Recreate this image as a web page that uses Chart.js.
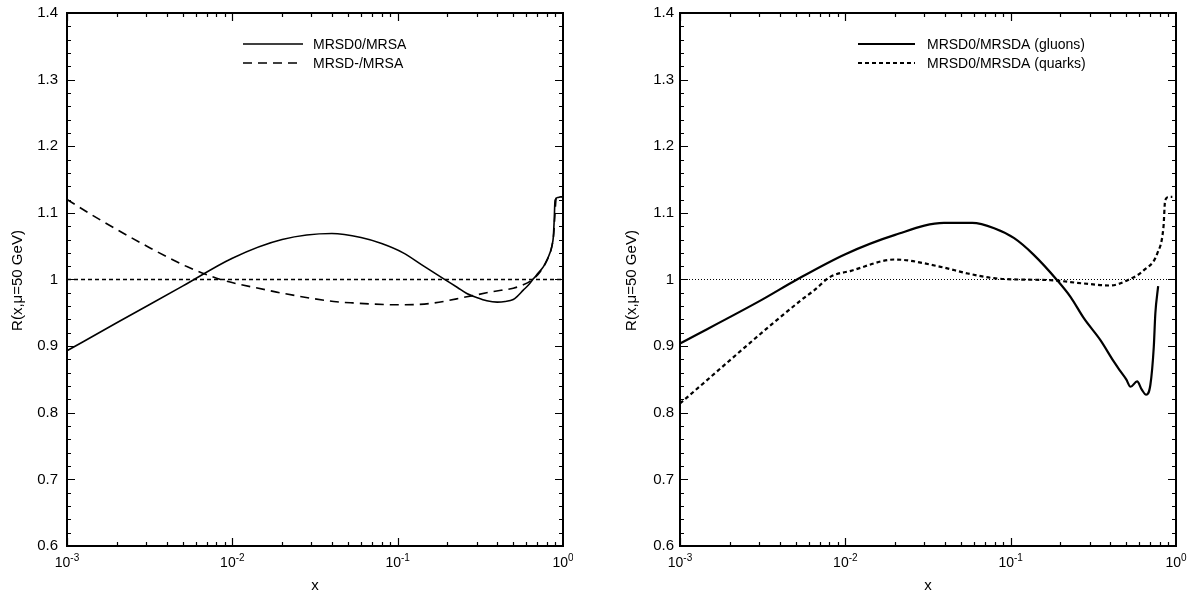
<!DOCTYPE html>
<html>
<head>
<meta charset="utf-8">
<script src="https://cdn.jsdelivr.net/npm/chart.js@4.4.1/dist/chart.umd.min.js"></script>
<style>
  html, body { margin: 0; padding: 0; background: #fff; overflow: hidden; }
  #wrap { position: relative; width: 1191px; height: 592px; overflow: hidden; }
  canvas { position: absolute; top: 0; display: block; }
  #chartLeft { left: 0; }
  #chartRight { left: 573px; }
</style>
</head>
<body>
<div id="wrap">
  <canvas id="chartLeft" width="573" height="592"></canvas>
  <canvas id="chartRight" width="618" height="592"></canvas>
</div>
<script>
// ---- data ----
const leftSolidX = [0.001, 0.002, 0.005, 0.01, 0.02, 0.04, 0.06, 0.08, 0.108, 0.14, 0.19, 0.23, 0.262, 0.3, 0.346, 0.4, 0.447, 0.5, 0.525, 0.575, 0.62, 0.662, 0.71, 0.76, 0.8, 0.834, 0.86, 0.874, 0.885, 0.895, 0.93, 0.966, 1.0];
const leftSolidY = [0.893, 0.935, 0.990, 1.032, 1.060, 1.069, 1.063, 1.054, 1.040, 1.022, 1.001, 0.988, 0.979, 0.973, 0.968, 0.966, 0.967, 0.970, 0.974, 0.984, 0.992, 1.001, 1.010, 1.019, 1.029, 1.040, 1.052, 1.064, 1.090, 1.119, 1.123, 1.124, 1.124];

const leftDashX = [0.001, 0.0016, 0.0032, 0.00535, 0.0085, 0.0163, 0.0205, 0.041, 0.052, 0.104, 0.157, 0.262, 0.379, 0.5, 0.575, 0.662, 0.73, 0.8, 0.855, 0.88, 0.895, 0.91, 0.95, 1.0];
const leftDashY = [1.120, 1.089, 1.047, 1.019, 1.000, 0.984, 0.979, 0.967, 0.965, 0.962, 0.964, 0.974, 0.982, 0.987, 0.992, 1.001, 1.012, 1.029, 1.049, 1.070, 1.100, 1.122, 1.123, 1.122];

const gluonX = [0.001, 0.0031, 0.0051, 0.01, 0.020, 0.0395, 0.0586, 0.0795, 0.105, 0.138, 0.191, 0.23, 0.277, 0.349, 0.42, 0.462, 0.50, 0.531, 0.582, 0.62, 0.66, 0.70, 0.734, 0.75, 0.78];
const gluonY = [0.904, 0.969, 1.000, 1.038, 1.067, 1.085, 1.085, 1.077, 1.062, 1.037, 0.999, 0.974, 0.942, 0.909, 0.877, 0.862, 0.850, 0.839, 0.847, 0.835, 0.827, 0.842, 0.899, 0.949, 0.990];

const quarkX = [0.001, 0.0054, 0.0065, 0.0081, 0.0108, 0.020, 0.0377, 0.055, 0.079, 0.11, 0.174, 0.277, 0.40, 0.51, 0.64, 0.77, 0.84, 0.86, 0.91, 0.95];
const quarkY = [0.814, 0.969, 0.984, 1.004, 1.013, 1.030, 1.019, 1.009, 1.002, 1.000, 0.999, 0.994, 0.991, 0.999, 1.014, 1.039, 1.079, 1.119, 1.124, 1.124];

const refX = [0.001, 1];
const refY = [1, 1];

const yTickValues = [0.6, 0.7, 0.8, 0.9, 1.0, 1.1, 1.2, 1.3, 1.4];
const yTickLabels = ["0.6", "0.7", "0.8", "0.9", "1", "1.1", "1.2", "1.3", "1.4"];
const xTickValues = [0.001, 0.01, 0.1, 1];
const xTickExps = ["-3", "-2", "-1", "0"];
const yMinorStep = 0.02;

const FONT = "'Liberation Sans', Arial, Helvetica, sans-serif";

const pts = (xs, ys) => xs.map((x, i) => ({ x: x, y: ys[i] }));

const framePlugin = {
    id: "frame",
    afterDraw(chart, args, opts) {
        const ctx = chart.ctx;
        const a = chart.chartArea;
        const sx = chart.scales.x;
        const sy = chart.scales.y;
        ctx.save();
        ctx.strokeStyle = "#000";
        ctx.fillStyle = "#000";

        // inward ticks on all four sides
        ctx.lineWidth = 1.2;
        ctx.beginPath();
        for (let d = -3; d < 0; d++) {
            for (let m = 1; m <= 9; m++) {
                const px = Math.round(sx.getPixelForValue(m * Math.pow(10, d))) + 0.5;
                const len = m === 1 ? 8 : 4;
                ctx.moveTo(px, a.bottom); ctx.lineTo(px, a.bottom - len);
                ctx.moveTo(px, a.top); ctx.lineTo(px, a.top + len);
            }
        }
        const n = Math.round((1.4 - 0.6) / yMinorStep);
        for (let i = 0; i <= n; i++) {
            const py = Math.round(sy.getPixelForValue(0.6 + i * yMinorStep)) + 0.5;
            const len = i % 5 === 0 ? 8 : 4;
            ctx.moveTo(a.left, py); ctx.lineTo(a.left + len, py);
            ctx.moveTo(a.right, py); ctx.lineTo(a.right - len, py);
        }
        ctx.stroke();

        ctx.lineWidth = 2;
        ctx.strokeRect(a.left, a.top, a.right - a.left, a.bottom - a.top);

        // x tick labels 10^n
        ctx.textBaseline = "alphabetic";
        ctx.textAlign = "left";
        xTickValues.forEach((v, i) => {
            const px = sx.getPixelForValue(v);
            ctx.font = "14px " + FONT;
            const w1 = ctx.measureText("10").width;
            ctx.font = "10px " + FONT;
            const w2 = ctx.measureText(xTickExps[i]).width;
            const x0 = px - (w1 + w2) / 2;
            ctx.font = "14px " + FONT;
            ctx.fillText("10", x0, 567);
            ctx.font = "10px " + FONT;
            ctx.fillText(xTickExps[i], x0 + w1, 561);
        });

        // axis titles
        ctx.font = "15px " + FONT;
        ctx.textAlign = "center";
        ctx.fillText("x", (a.left + a.right) / 2, 590);
        ctx.save();
        ctx.translate(opts.titleX, (a.top + a.bottom) / 2 + 1);
        ctx.rotate(-Math.PI / 2);
        ctx.textBaseline = "middle";
        ctx.fillText("R(x,\u03bc=50 GeV)", 0, 0);
        ctx.restore();

        // legend
        ctx.font = "14px " + FONT;
        ctx.textAlign = "left";
        ctx.textBaseline = "middle";
        let row = 0;
        chart.data.datasets.forEach(ds => {
            if (!ds.label) return;
            const y = opts.legendY[row++];
            ctx.save();
            ctx.lineWidth = ds.borderWidth;
            ctx.setLineDash(ds.borderDash || []);
            ctx.beginPath();
            ctx.moveTo(opts.legendX0, y);
            ctx.lineTo(opts.legendX1, y);
            ctx.stroke();
            ctx.restore();
            ctx.fillText(ds.label, opts.legendTextX, y + 1);
        });
        ctx.restore();
    }
};

function makeChart(id, datasets, yWidth, yPad, padRight, frameOpts) {
    return new Chart(document.getElementById(id).getContext("2d"), {
        type: "line",
        data: { datasets: datasets },
        options: {
            responsive: false,
            animation: false,
            devicePixelRatio: 1,
            layout: { padding: { left: 0, top: 13, right: padRight, bottom: 0 } },
            elements: { point: { radius: 0 } },
            plugins: {
                legend: { display: false },
                tooltip: { enabled: false },
                frame: frameOpts
            },
            scales: {
                x: {
                    type: "logarithmic",
                    min: 0.001,
                    max: 1,
                    grid: { display: false },
                    border: { display: false },
                    ticks: { display: false },
                    afterFit: s => { s.height = 46; s.paddingLeft = 0; s.paddingRight = 0; }
                },
                y: {
                    type: "linear",
                    min: 0.6,
                    max: 1.4,
                    grid: { display: false, drawTicks: false },
                    border: { display: false },
                    afterBuildTicks: s => { s.ticks = yTickValues.map(v => ({ value: v })); },
                    ticks: {
                        color: "#000",
                        padding: yPad,
                        font: { size: 15, family: FONT },
                        callback: (v, i) => yTickLabels[i]
                    },
                    afterFit: s => { s.width = yWidth; s.paddingTop = 0; s.paddingBottom = 0; }
                }
            }
        },
        plugins: [framePlugin]
    });
}

makeChart("chartLeft", [
    { data: pts(refX, refY), borderColor: "#000", borderWidth: 1.3, borderDash: [4, 3] },
    { label: "MRSD0/MRSA", data: pts(leftSolidX, leftSolidY), borderColor: "#000", borderWidth: 1.6, cubicInterpolationMode: "monotone" },
    { label: "MRSD-/MRSA", data: pts(leftDashX, leftDashY), borderColor: "#000", borderWidth: 1.6, borderDash: [9, 6], cubicInterpolationMode: "monotone" }
], 67, 9, 10, { titleX: 18, legendX0: 243, legendX1: 303, legendTextX: 313, legendY: [44, 63] });

makeChart("chartRight", [
    { data: pts(refX, refY), borderColor: "#000", borderWidth: 1, borderDash: [1, 2] },
    { label: "MRSD0/MRSDA (gluons)", data: pts(gluonX, gluonY), borderColor: "#000", borderWidth: 2.2, cubicInterpolationMode: "monotone" },
    { label: "MRSD0/MRSDA (quarks)", data: pts(quarkX, quarkY), borderColor: "#000", borderWidth: 2.2, borderDash: [4, 3], cubicInterpolationMode: "monotone" }
], 107, 6, 15, { titleX: 59, legendX0: 285, legendX1: 342, legendTextX: 354, legendY: [44, 63] });
</script>
</body>
</html>
